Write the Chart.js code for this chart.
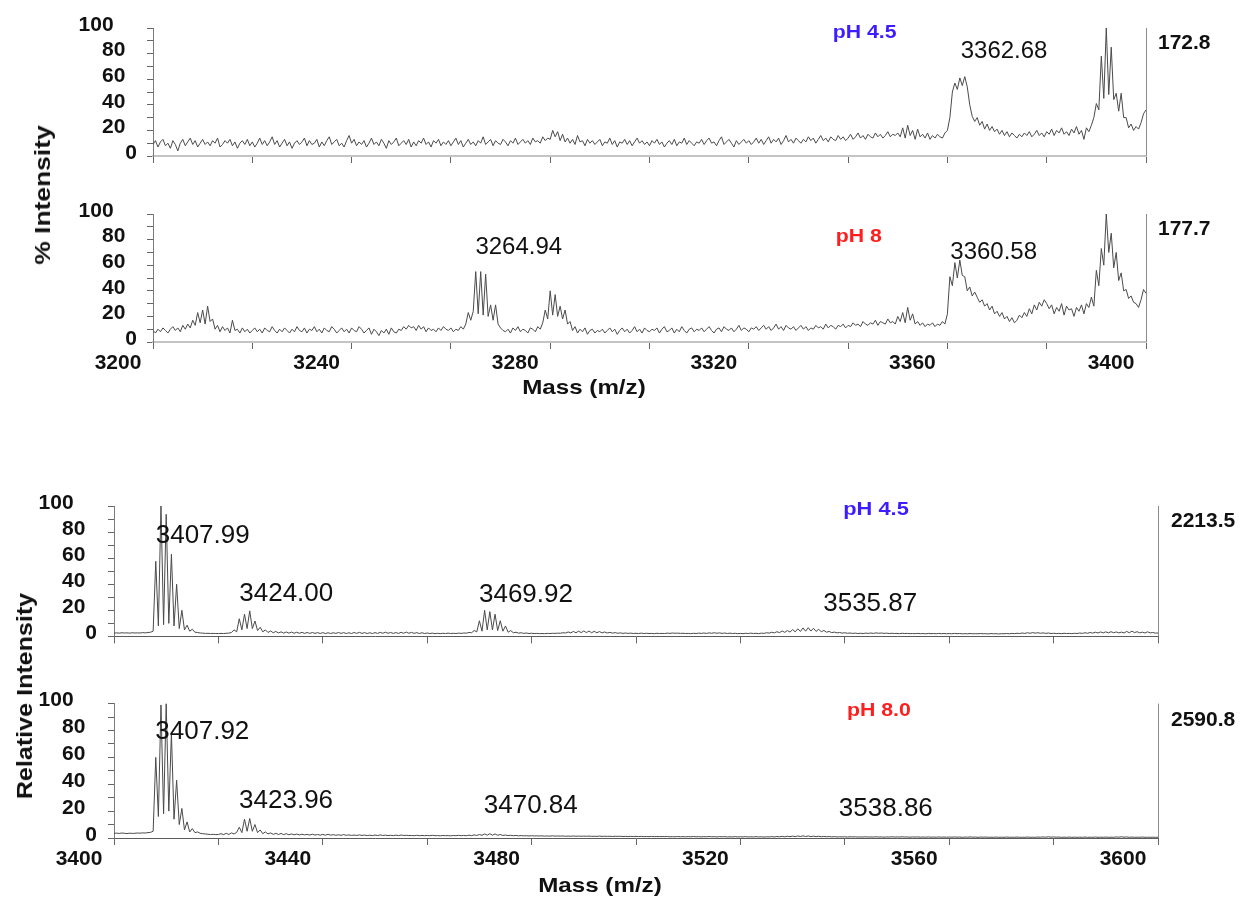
<!DOCTYPE html>
<html>
<head>
<meta charset="utf-8">
<title>MALDI spectra, pH 4.5 vs pH 8</title>
<script src="https://cdn.jsdelivr.net/npm/chart.js@4.4.1/dist/chart.umd.min.js"></script>
<style>
  html, body { margin: 0; padding: 0; background: #fff; }
  body { width: 1249px; height: 900px; position: relative; overflow: hidden;
         font-family: "Liberation Sans", Arial, sans-serif; }
  canvas { position: absolute; left: 0; }
  .ytitle { position: absolute; font-weight: bold; font-size: 22px; color: #111;
            white-space: nowrap; }
</style>
</head>
<body>
<canvas id="topAcid" width="1249" height="180" style="top:0px"></canvas>
<canvas id="topBasic" width="1249" height="225" style="top:180px"></canvas>
<canvas id="bottomAcid" width="1249" height="190" style="top:470px"></canvas>
<canvas id="bottomBasic" width="1249" height="220" style="top:680px"></canvas>
<div class="ytitle" style="left:43px; top:195px; transform:translate(-50%,-50%) rotate(-90deg) scaleX(1.2);">% Intensity</div>
<div class="ytitle" style="left:25px; top:696px; transform:translate(-50%,-50%) rotate(-90deg) scaleX(1.14);">Relative Intensity</div>

<script>
// ---- Spectrum data (relative intensity, %, sampled every 0.5 m/z) ----
const massStep = 0.5;
const massStartLow = 3200;   // 3200 - 3400 window
const massStartHigh = 3400;  // 3400 - 3600 window

const intensityPH45Low = [
  9, 12, 7, 11, 13, 8, 10, 6, 12, 9, 4, 10, 13, 8, 11, 14, 9, 12, 7, 10,
  13, 9, 11, 8, 12, 10, 14, 7, 9, 12, 10, 13, 8, 11, 6, 10, 12, 9, 13, 8,
  11, 7, 10, 14, 9, 12, 8, 11, 15, 9, 12, 7, 10, 13, 8, 11, 6, 10, 12, 9,
  11, 14, 8, 12, 9, 10, 13, 7, 11, 8, 12, 15, 9, 11, 13, 8, 10, 7, 12, 16,
  10, 13, 8, 11, 9, 12, 7, 10, 14, 9, 11, 8, 13, 10, 6, 12, 9, 11, 14, 8,
  10, 12, 9, 13, 7, 11, 8, 12, 10, 14, 9, 11, 7, 12, 10, 13, 8, 11, 9, 12,
  8, 11, 14, 9, 12, 7, 10, 13, 9, 11, 8, 12, 10, 15, 9, 11, 13, 8, 12, 10,
  9, 13, 11, 8, 12, 10, 14, 9, 11, 13, 10, 12, 9, 14, 11, 12, 10, 15, 12, 14,
  13, 20, 15, 19, 12, 17, 11, 14, 10, 13, 9, 16, 11, 12, 8, 13, 10, 12, 9, 11,
  13, 8, 11, 10, 14, 9, 12, 7, 11, 10, 13, 9, 12, 8, 11, 14, 10, 12, 9, 11,
  8, 12, 10, 13, 9, 11, 7, 10, 12, 9, 13, 8, 11, 10, 14, 9, 12, 10, 8, 11,
  10, 13, 9, 12, 14, 10, 11, 8, 12, 15, 9, 11, 13, 10, 7, 12, 9, 11, 13, 10,
  12, 9, 11, 14, 10, 13, 9, 12, 15, 10, 13, 11, 14, 9, 12, 16, 11, 13, 10, 14,
  12, 10, 13, 11, 15, 12, 14, 10, 13, 16, 12, 14, 11, 15, 13, 12, 16, 13, 15, 12,
  14, 17, 13, 15, 18, 14, 16, 13, 17, 15, 14, 18, 15, 17, 14, 16, 19, 15, 17, 16,
  18, 15, 22, 14, 24, 16, 20, 13, 21, 15, 17, 14, 18, 13, 16, 14, 17, 15, 14, 18,
  20, 30, 50, 57, 52, 61, 55, 62, 54, 40, 31, 27, 30, 24, 27, 21, 25, 20, 23, 19,
  21, 17, 20, 16, 19, 15, 18, 16, 14, 17, 15, 18, 16, 19, 15, 17, 20, 16, 18, 15,
  19, 17, 21, 16, 20, 18, 22, 17, 19, 16, 21, 18, 23, 17, 20, 13, 22, 19, 24, 30,
  41, 36, 78, 45, 100, 48, 85, 44, 49, 35, 49, 30, 30, 22, 25, 20, 23, 21, 26, 33,
  36
];

const intensityPH8Low = [
  9, 7, 10, 8, 11, 9, 7, 10, 12, 9, 11, 8, 13, 10, 14, 11, 17, 13, 23, 15,
  25, 14, 28, 16, 18, 10, 13, 8, 12, 9, 11, 7, 17, 9, 10, 7, 11, 8, 10, 7,
  9, 11, 8, 10, 7, 11, 9, 8, 12, 9, 7, 10, 8, 11, 9, 7, 10, 8, 12, 9,
  8, 11, 7, 10, 9, 12, 8, 10, 7, 11, 9, 8, 12, 10, 7, 9, 11, 8, 10, 7,
  11, 9, 8, 12, 10, 7, 9, 11, 6, 10, 8, 5, 9, 7, 10, 6, 11, 8, 7, 10,
  9, 12, 10, 13, 11, 12, 9, 13, 10, 12, 8, 11, 9, 10, 8, 11, 9, 12, 10, 9,
  11, 8, 10, 9, 12, 10, 14, 23, 17, 24, 55, 22, 55, 21, 53, 20, 29, 17, 29, 14,
  11, 9, 8, 10, 7, 11, 9, 12, 8, 10, 9, 7, 11, 10, 8, 12, 10, 15, 25, 18,
  40, 21, 37, 20, 28, 18, 25, 14, 16, 9, 12, 7, 10, 8, 11, 6, 9, 10, 7, 9,
  8, 10, 7, 9, 11, 8, 10, 6, 9, 11, 8, 10, 7, 9, 12, 8, 10, 7, 11, 9,
  8, 10, 9, 11, 7, 10, 12, 8, 9, 11, 7, 10, 8, 12, 9, 7, 10, 11, 8, 10,
  9, 11, 8, 10, 12, 9, 7, 10, 11, 8, 12, 10, 9, 11, 8, 10, 13, 9, 11, 10,
  8, 11, 10, 12, 9, 11, 13, 10, 12, 9, 11, 14, 10, 12, 9, 13, 11, 10, 12, 9,
  11, 13, 10, 12, 9, 11, 10, 13, 11, 12, 10, 14, 11, 13, 12, 10, 13, 12, 14, 11,
  13, 12, 15, 13, 14, 12, 16, 14, 13, 15, 14, 17, 13, 16, 15, 14, 18, 15, 16, 14,
  20, 16, 23, 15, 27, 17, 22, 14, 16, 13, 15, 12, 14, 13, 15, 12, 14, 13, 16, 14,
  22, 51, 44, 62, 50, 64, 52, 51, 40, 43, 36, 39, 35, 31, 33, 28, 30, 25, 28, 22,
  24, 20, 23, 18, 20, 16, 19, 15, 17, 21, 19, 23, 20, 26, 22, 29, 25, 31, 28, 33,
  30, 26, 29, 22, 27, 24, 30, 21, 28, 25, 26, 20, 27, 24, 29, 22, 30, 27, 35, 28,
  56, 44, 73, 60, 100, 70, 85, 58, 70, 48, 54, 40, 41, 34, 36, 31, 30, 27, 33, 41,
  38
];

const intensityPH45High = [
  2.5, 2.7, 2.5, 2.8, 2.6, 2.7, 2.5, 2.8, 2.6, 2.7, 2.6, 2.9, 2.7, 3, 3.2, 4, 57.6, 8, 100, 9,
  93.6, 10, 63, 8, 40, 6, 20, 5, 8.6, 4, 5.5, 3.2, 3, 2.6, 2.5, 2.3, 2.4, 2.2, 2.3, 2.2,
  2.2, 2.3, 2.2, 2.4, 2.5, 3, 5, 3.5, 13.5, 5, 17, 6, 19.6, 6, 11.8, 4.5, 7, 3.5, 5, 3,
  4.2, 2.8, 3.8, 2.6, 3.5, 2.5, 3.4, 2.5, 3.3, 2.4, 3.2, 2.4, 3.1, 2.3, 3, 2.3, 3, 2.3, 2.9, 2.2,
  2.9, 2.2, 2.8, 2.2, 2.8, 2.3, 3, 2.3, 2.9, 2.2, 2.8, 2.2, 3, 2.3, 3.1, 2.3, 2.9, 2.2, 2.8, 2.2,
  2.9, 2.3, 3.1, 2.4, 3.2, 2.4, 3, 2.3, 2.9, 2.3, 3.1, 2.4, 3.3, 2.4, 3.1, 2.3, 2.9, 2.2, 2.8, 2.2,
  2.6, 2.2, 2.5, 2.1, 2.4, 2.1, 2.4, 2.2, 2.5, 2.2, 2.4, 2.2, 2.5, 2.3, 2.6, 2.5, 3, 2.8, 4.5, 3.5,
  12, 4, 20, 5, 19, 5, 17, 4.5, 12, 4, 8, 3.2, 4.5, 2.8, 3.2, 2.5, 2.8, 2.3, 2.6, 2.2,
  2.4, 2.2, 2.3, 2.1, 2.2, 2.1, 2.3, 2.2, 2.4, 2.3, 2.5, 2.4, 2.8, 2.6, 3.4, 2.7, 3.8, 2.8, 4, 2.9,
  4.2, 2.9, 4.1, 2.8, 3.9, 2.8, 3.7, 2.7, 3.4, 2.6, 3.1, 2.5, 2.9, 2.4, 2.7, 2.3, 2.6, 2.3, 2.5, 2.2,
  2.4, 2.2, 2.5, 2.2, 2.4, 2.2, 2.3, 2.1, 2.4, 2.2, 2.3, 2.2, 2.5, 2.3, 2.6, 2.4, 2.5, 2.3, 2.4, 2.2,
  2.3, 2.1, 2.4, 2.2, 2.5, 2.3, 2.6, 2.3, 2.7, 2.4, 2.8, 2.4, 2.7, 2.3, 2.6, 2.2, 2.5, 2.2, 2.4, 2.1,
  2.3, 2.1, 2.4, 2.2, 2.5, 2.2, 2.4, 2.1, 2.5, 2.3, 2.8, 2.5, 3.2, 2.7, 3.6, 2.9, 4.2, 3.1, 4.5, 3.3,
  5.2, 3.5, 5.8, 3.8, 6.5, 4, 6.7, 4.1, 6.2, 3.8, 5.5, 3.5, 4.6, 3.2, 3.8, 2.9, 3.3, 2.7, 3, 2.5,
  2.8, 2.4, 2.6, 2.3, 2.5, 2.2, 2.4, 2.2, 2.5, 2.3, 2.6, 2.3, 2.7, 2.4, 2.6, 2.3, 2.5, 2.2, 2.4, 2.2,
  2.3, 2.1, 2.4, 2.2, 2.3, 2.1, 2.2, 2.1, 2.3, 2.1, 2.2, 2, 2.3, 2.1, 2.2, 2, 2.3, 2.1, 2.2, 2,
  2.2, 2, 2.3, 2.1, 2.2, 2, 2.1, 2, 2.2, 2, 2.1, 2, 2.2, 2, 2.1, 1.9, 2.2, 2, 2.1, 1.9,
  2.1, 2, 2.2, 2, 2.3, 2.1, 2.4, 2.2, 2.6, 2.3, 2.8, 2.4, 2.9, 2.5, 2.8, 2.4, 2.7, 2.3, 2.6, 2.2,
  2.4, 2.2, 2.3, 2.1, 2.4, 2.2, 2.3, 2.1, 2.4, 2.2, 2.6, 2.3, 2.8, 2.4, 3, 2.5, 3.2, 2.6, 3.4, 2.7,
  3.5, 2.7, 3.6, 2.8, 3.4, 2.7, 3.3, 2.6, 3.8, 2.8, 4, 2.9, 3.6, 2.7, 3.3, 2.6, 3.5, 2.7, 3, 2.5,
  2.6
];

const intensityPH8High = [
  3.5, 3.6, 3.4, 3.7, 3.5, 3.3, 3.6, 3.4, 3.5, 3.7, 3.6, 3.8, 3.7, 4, 4.2, 5, 60, 16, 99, 18,
  100, 20, 78, 14, 43, 10, 22, 6, 12, 4.5, 7, 4, 4.5, 3.5, 3.2, 3, 2.8, 2.6, 2.7, 2.5,
  2.6, 3.2, 2.5, 3.5, 2.6, 3.8, 3, 4.2, 8, 4, 14, 5, 14.5, 5, 10, 4, 6, 3.2, 4.5, 3,
  3.8, 2.7, 3.5, 2.6, 3.4, 2.5, 3.2, 2.4, 3, 2.4, 2.9, 2.3, 2.8, 2.3, 2.7, 2.2, 2.8, 2.2, 2.6, 2.1,
  2.7, 2.1, 2.8, 2.1, 2.5, 2, 2.4, 2, 2.5, 2, 2.3, 1.9, 2.2, 1.9, 2.3, 1.9, 2.2, 1.8, 2.1, 1.8,
  2.2, 1.8, 2.3, 1.9, 2.1, 1.8, 2, 1.8, 2.1, 1.8, 2.2, 1.9, 2, 1.8, 1.9, 1.7, 2, 1.7, 1.9, 1.7,
  1.9, 1.7, 2, 1.7, 1.8, 1.6, 1.9, 1.7, 1.8, 1.6, 1.9, 1.7, 2, 1.7, 1.9, 1.7, 2.1, 1.8, 2.3, 1.9,
  2.6, 2, 3, 2.1, 3.2, 2.1, 3, 2, 2.6, 1.9, 2.2, 1.8, 2, 1.7, 1.9, 1.6, 1.8, 1.6, 1.7, 1.5,
  1.7, 1.5, 1.6, 1.5, 1.6, 1.4, 1.5, 1.4, 1.6, 1.4, 1.5, 1.4, 1.5, 1.3, 1.4, 1.3, 1.5, 1.3, 1.4, 1.3,
  1.4, 1.3, 1.4, 1.2, 1.3, 1.2, 1.4, 1.2, 1.3, 1.2, 1.3, 1.1, 1.3, 1.2, 1.3, 1.1, 1.2, 1.1, 1.2, 1.1,
  1.2, 1.1, 1.2, 1, 1.1, 1, 1.2, 1, 1.1, 1, 1.1, 1, 1.1, 0.9, 1, 0.9, 1.1, 0.9, 1, 0.9,
  1, 0.9, 1.1, 0.9, 1, 0.8, 1, 0.9, 1.1, 0.9, 1, 0.8, 1, 0.9, 1, 0.8, 0.9, 0.8, 1, 0.8,
  0.9, 0.8, 1, 0.8, 0.9, 0.8, 1, 0.8, 0.9, 0.7, 0.9, 0.8, 1, 0.8, 1.1, 0.9, 1.2, 0.9, 1.3, 1,
  1.4, 1, 1.5, 1.1, 1.6, 1.1, 1.5, 1, 1.4, 1, 1.3, 0.9, 1.2, 0.9, 1.1, 0.8, 1, 0.8, 0.9, 0.8,
  0.9, 0.7, 0.9, 0.8, 0.9, 0.7, 0.8, 0.7, 0.9, 0.7, 0.8, 0.7, 0.9, 0.7, 0.8, 0.6, 0.8, 0.7, 0.9, 0.7,
  0.8, 0.7, 0.9, 0.7, 0.8, 0.6, 0.8, 0.7, 0.8, 0.6, 0.7, 0.6, 0.8, 0.6, 0.7, 0.6, 0.8, 0.6, 0.7, 0.6,
  0.7, 0.6, 0.8, 0.6, 0.7, 0.5, 0.7, 0.6, 0.8, 0.6, 0.7, 0.5, 0.7, 0.6, 0.7, 0.5, 0.6, 0.5, 0.7, 0.5,
  0.6, 0.5, 0.7, 0.5, 0.6, 0.5, 0.7, 0.5, 0.6, 0.5, 0.7, 0.5, 0.6, 0.5, 0.7, 0.6, 0.8, 0.6, 0.9, 0.6,
  0.8, 0.6, 0.7, 0.5, 0.6, 0.5, 0.7, 0.5, 0.6, 0.5, 0.6, 0.5, 0.7, 0.5, 0.6, 0.5, 0.7, 0.5, 0.6, 0.5,
  0.7, 0.5, 0.6, 0.5, 0.8, 0.6, 0.9, 0.6, 0.8, 0.5, 0.7, 0.5, 0.6, 0.5, 0.7, 0.5, 0.6, 0.5, 0.6, 0.5,
  0.6
];

// Annotated peak masses (m/z)
const peaksPH45Low = [3362.68];
const peaksPH8Low = [3264.94, 3360.58];
const peaksPH45High = [3407.99, 3424.00, 3469.92, 3535.87];
const peaksPH8High = [3407.92, 3423.96, 3470.84, 3538.86];

// Absolute intensity of the 100 % signal in each spectrum
const basePeakPH45Low = 172.8;
const basePeakPH8Low = 177.7;
const basePeakPH45High = 2213.5;
const basePeakPH8High = 2590.8;

// Sample conditions
const conditionPH45Low = 'pH 4.5';
const conditionPH8Low = 'pH 8';
const conditionPH45High = 'pH 4.5';
const conditionPH8High = 'pH 8.0';

// Tick labels
const intensityTicks = [0, 20, 40, 60, 80, 100];
const massTicksLow = [3200, 3240, 3280, 3320, 3360, 3400];
const massTicksHigh = [3400, 3440, 3480, 3520, 3560, 3600];

// ---- Drawing ----
const FONT = "'Liberation Sans', Arial, Helvetica, sans-serif";
const BLUE = '#3d1dff';
const RED = '#ff1d1d';

// Right frame line and free text (peak masses, conditions, axis captions)
const spectrumText = {
  id: 'spectrumText',
  beforeDatasetsDraw(chart) {
    const { ctx, chartArea: a } = chart;
    const x = Math.round(a.right) + 0.5;
    ctx.save();
    ctx.strokeStyle = '#8c8c8c';
    ctx.lineWidth = 1;
    ctx.beginPath();
    ctx.moveTo(x, a.top);
    ctx.lineTo(x, a.bottom);
    ctx.stroke();
    ctx.restore();
  },
  afterDraw(chart, args, opts) {
    const { ctx, chartArea: a } = chart;
    const xs = chart.scales.x, ys = chart.scales.y;
    (opts.items || []).forEach(it => {
      const px = it.dx !== undefined ? a.right + it.dx : xs.getPixelForValue(it.x);
      const py = ys.getPixelForValue(it.y);
      ctx.save();
      ctx.translate(px, py);
      ctx.scale(it.sx || 1, 1);
      ctx.font = it.font;
      ctx.fillStyle = it.color || '#111';
      ctx.textAlign = it.align || 'left';
      ctx.textBaseline = 'middle';
      ctx.fillText(it.text, 0, 0);
      ctx.restore();
    });
  }
};

function intensityLabel(v) {
  if (!intensityTicks.includes(v)) return '';
  const s = String(v);
  return s + ' '.repeat(2 * (s.length - 1));
}

function makeSpectrum(id, cfg) {
  const points = cfg.values.map((v, i) => ({ x: cfg.start + i * massStep, y: v }));
  const massTicks = cfg.massTicks;
  return new Chart(document.getElementById(id), {
    type: 'line',
    data: {
      datasets: [{
        data: points,
        borderColor: '#4a4a4a',
        borderWidth: 1,
        pointRadius: 0,
        tension: 0,
        fill: false
      }]
    },
    options: {
      responsive: false,
      animation: false,
      events: [],
      layout: { padding: cfg.padding },
      plugins: {
        legend: { display: false },
        tooltip: { enabled: false },
        spectrumText: { items: cfg.items }
      },
      scales: {
        x: {
          type: 'linear',
          min: cfg.start,
          max: cfg.start + 200,
          afterFit: s => { s.height = cfg.xHeight; },
          border: { display: true, color: cfg.xAxisColor, width: cfg.xAxisWidth },
          grid: { display: true, drawOnChartArea: false, drawTicks: true, tickLength: 7, tickColor: '#666' },
          ticks: {
            stepSize: 20, autoSkip: false, maxRotation: 0, minRotation: 0,
            padding: 2, labelOffset: -35, color: '#111',
            font: { family: FONT, size: 21, weight: 'bold' },
            callback: v => (cfg.showMass && massTicks.includes(v)) ? String(v) : ''
          }
        },
        y: {
          min: 0,
          max: 100,
          afterFit: s => { s.width = cfg.yWidth; },
          border: { display: true, color: '#7a7a7a', width: 1 },
          grid: { display: true, drawOnChartArea: false, drawTicks: true, tickLength: 6, tickColor: '#666' },
          ticks: {
            stepSize: 10, autoSkip: false, padding: cfg.yPad, labelOffset: -3, color: '#111',
            font: { family: FONT, size: 21, weight: 'bold' },
            callback: v => intensityLabel(v)
          }
        }
      }
    },
    plugins: [spectrumText]
  });
}

const peakFontLow = `24px ${FONT}`;
const peakFontHigh = `26px ${FONT}`;
const condFont = `bold 19px ${FONT}`;
const baseFont = `bold 21px ${FONT}`;
const captionFont = `bold 21px ${FONT}`;

// 3200 - 3400, pH 4.5
makeSpectrum('topAcid', {
  values: intensityPH45Low, start: massStartLow, massTicks: massTicksLow, showMass: false,
  padding: { left: 0, top: 28, right: 103, bottom: 0 }, yWidth: 153, xHeight: 24, yPad: 10,
  xAxisColor: '#c4c4c4', xAxisWidth: 2,
  items: [
    { text: conditionPH45Low, x: 3336.9, y: 96, font: condFont, color: BLUE, sx: 1.12 },
    { text: peaksPH45Low[0].toFixed(2), x: peaksPH45Low[0], y: 82, font: peakFontLow },
    { text: basePeakPH45Low.toFixed(1), dx: 12, y: 88, font: baseFont }
  ]
});

// 3200 - 3400, pH 8
makeSpectrum('topBasic', {
  values: intensityPH8Low, start: massStartLow, massTicks: massTicksLow, showMass: true,
  padding: { left: 0, top: 34, right: 103, bottom: 0 }, yWidth: 153, xHeight: 63, yPad: 10,
  xAxisColor: '#c4c4c4', xAxisWidth: 2,
  items: [
    { text: conditionPH8Low, x: 3337.5, y: 82, font: condFont, color: RED, sx: 1.12 },
    { text: peaksPH8Low[0].toFixed(2), x: peaksPH8Low[0], y: 74, font: peakFontLow },
    { text: peaksPH8Low[1].toFixed(2), x: peaksPH8Low[1], y: 70, font: peakFontLow },
    { text: basePeakPH8Low.toFixed(1), dx: 12, y: 88, font: baseFont },
    { text: 'Mass (m/z)', x: 3286.8, y: -36, font: captionFont, align: 'center', sx: 1.15 }
  ]
});

// 3400 - 3600, pH 4.5
makeSpectrum('bottomAcid', {
  values: intensityPH45High, start: massStartHigh, massTicks: massTicksHigh, showMass: false,
  padding: { left: 0, top: 36, right: 91, bottom: 0 }, yWidth: 114, xHeight: 19, yPad: 11,
  xAxisColor: '#5c5c5c', xAxisWidth: 1,
  items: [
    { text: conditionPH45High, x: 3539.7, y: 97, font: condFont, color: BLUE, sx: 1.15 },
    ...peaksPH45High.map((m, i) => ({ text: m.toFixed(2), x: m, y: [77, 32.6, 31.9, 25.2][i], font: peakFontHigh })),
    { text: basePeakPH45High.toFixed(1), dx: 13, y: 88, font: baseFont }
  ]
});

// 3400 - 3600, pH 8.0
makeSpectrum('bottomBasic', {
  values: intensityPH8High, start: massStartHigh, massTicks: massTicksHigh, showMass: true,
  padding: { left: 0, top: 23, right: 91, bottom: 0 }, yWidth: 114, xHeight: 62, yPad: 11,
  xAxisColor: '#5c5c5c', xAxisWidth: 1,
  items: [
    { text: conditionPH8High, x: 3540.4, y: 94.8, font: condFont, color: RED, sx: 1.12 },
    ...peaksPH8High.map((m, i) => ({ text: m.toFixed(2), x: m, y: [79, 28, 23.7, 21.5][i], font: peakFontHigh })),
    { text: basePeakPH8High.toFixed(1), dx: 13, y: 88, font: baseFont },
    { text: 'Mass (m/z)', x: 3493.1, y: -35.6, font: captionFont, align: 'center', sx: 1.15 }
  ]
});
</script>
</body>
</html>
